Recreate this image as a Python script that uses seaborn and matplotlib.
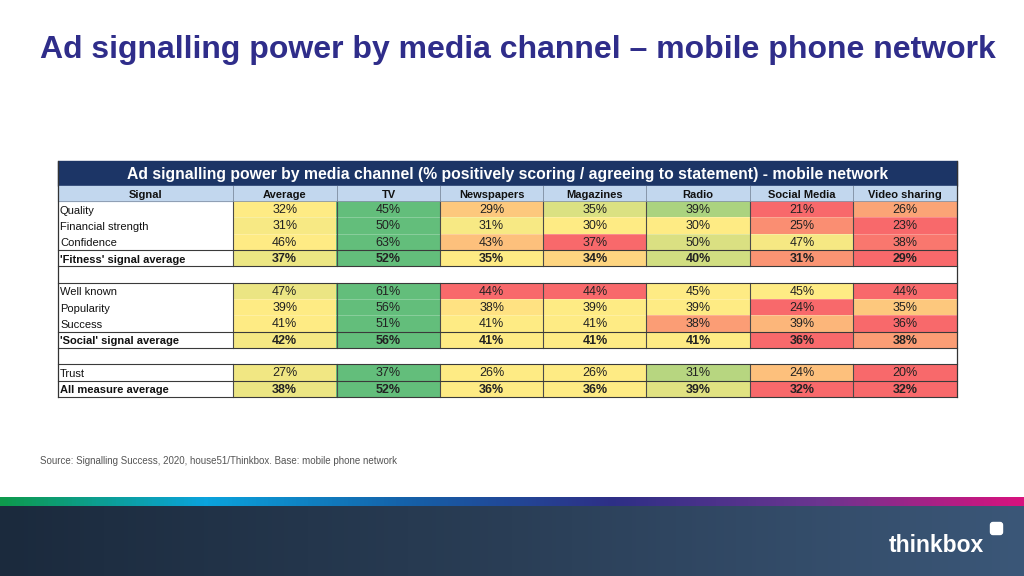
import numpy as np
import pandas as pd
import matplotlib
matplotlib.use("Agg")
import matplotlib.pyplot as plt
import seaborn as sns
from matplotlib.colors import LinearSegmentedColormap
from matplotlib.patches import Rectangle, FancyBboxPatch

# ---------------- data ----------------
signals = ["Quality", "Financial strength", "Confidence", "'Fitness' signal average", "",
           "Well known", "Popularity", "Success", "'Social' signal average", "",
           "Trust", "All measure average"]
bold_rows = [3, 8, 11]
channels = ["Average", "TV", "Newspapers", "Magazines", "Radio", "Social Media", "Video sharing"]

average     = [32, 31, 46, 37, None, 47, 39, 41, 42, None, 27, 38]
tv          = [45, 50, 63, 52, None, 61, 56, 51, 56, None, 37, 52]
newspapers  = [29, 31, 43, 35, None, 44, 38, 41, 41, None, 26, 36]
magazines   = [35, 30, 37, 34, None, 44, 39, 41, 41, None, 26, 36]
radio       = [39, 30, 50, 40, None, 45, 39, 38, 41, None, 31, 39]
social      = [21, 25, 47, 31, None, 45, 24, 39, 36, None, 24, 32]
video       = [26, 23, 38, 29, None, 44, 35, 36, 38, None, 20, 32]

slide_title = "Ad signalling power by media channel \u2013 mobile phone network"
table_title = "Ad signalling power by media channel (% positively scoring / agreeing to statement) - mobile network"
source_text = "Source: Signalling Success, 2020, house51/Thinkbox. Base: mobile phone network"

# ---------------- build frame ----------------
df = pd.DataFrame({c: pd.Series(v, dtype="float") for c, v in
                   zip(channels, [average, tv, newspapers, magazines, radio, social, video])})

# Excel-like 3-colour scale applied per row (min red, median yellow, max green)
def row_scale(row):
    vals = row.values.astype(float)
    if np.all(np.isnan(vals)):
        return pd.Series(vals, index=row.index)
    lo, mid, hi = np.nanmin(vals), np.nanmedian(vals), np.nanmax(vals)
    out = np.where(vals <= mid,
                   0.5 * (vals - lo) / max(mid - lo, 1e-9),
                   0.5 + 0.5 * (vals - mid) / max(hi - mid, 1e-9))
    return pd.Series(out, index=row.index)

scaled = df.apply(row_scale, axis=1)
annot = df.map(lambda v: "" if np.isnan(v) else f"{int(v)}%")
cmap = LinearSegmentedColormap.from_list("ryg", ["#F8696B", "#FFEB84", "#63BE7B"])

# ---------------- figure ----------------
W, H = 1024, 576
fig = plt.figure(figsize=(W / 100, H / 100), dpi=100)
fig.patch.set_facecolor("white")

bg = fig.add_axes([0, 0, 1, 1], zorder=0)
bg.set_xlim(0, W); bg.set_ylim(H, 0); bg.axis("off")

# bottom coloured strip and footer
stops = ["#0E9A4C", "#0AA3DD", "#1560A8", "#2E2F86", "#6B3590", "#D8127E"]
strip_cmap = LinearSegmentedColormap.from_list("strip", stops)
grad = np.linspace(0, 1, 512)[None, :]
bg.imshow(grad, cmap=strip_cmap, extent=[0, W, 506, 497], aspect="auto", zorder=1)
foot_cmap = LinearSegmentedColormap.from_list("foot", ["#1B2A3D", "#2A3E56", "#3B5778"])
bg.imshow(grad, cmap=foot_cmap, extent=[0, W, H, 506], aspect="auto", zorder=1)

# slide title
bg.text(40, 50, slide_title, fontsize=23, fontweight="bold", color="#2F2D8A",
        family="Liberation Sans", va="center", ha="left")

# table geometry
tx0, tx1 = 58, 957
title_top, head_top, body_top, body_bot = 161, 186, 201, 397
col_x = [233, 337, 440, 543, 646, 750, 853, 957]

bg.add_patch(Rectangle((tx0, title_top), tx1 - tx0, head_top - title_top, color="#1C3566", zorder=2))
bg.add_patch(Rectangle((tx0, head_top), tx1 - tx0, body_top - head_top, color="#C2D7EE", zorder=2))
bg.text((tx0 + tx1) / 2, (title_top + head_top) / 2 + 0.5, table_title, color="white",
        fontsize=11.3, fontweight="bold", family="Liberation Sans", ha="center", va="center", zorder=3)

headers = ["Signal"] + channels
hx = [(tx0 + col_x[0]) / 2] + [(col_x[i] + col_x[i + 1]) / 2 for i in range(7)]
for lab, x in zip(headers, hx):
    bg.text(x, (head_top + body_top) / 2 + 1, lab, fontsize=8, fontweight="bold",
            family="Liberation Sans", ha="center", va="center", color="#111", zorder=3)

nrows = len(signals)
rh = (body_bot - body_top) / nrows
for i, s in enumerate(signals):
    if s:
        bg.text(tx0 + 2, body_top + (i + 0.5) * rh + 1.5, s, fontsize=8,
                fontweight="bold" if i in bold_rows else "normal",
                family="Liberation Sans", ha="left", va="center", color="#111", zorder=3)

bg.text(40, 461, source_text, fontsize=7, color="#555", family="Liberation Sans",
        ha="left", va="center")

# thinkbox logo
bg.text(936, 546, "thinkbox", fontsize=16.5, color="white", fontweight="bold",
        family="Liberation Sans", ha="center", va="center", zorder=3)
bg.add_patch(FancyBboxPatch((990.5, 522.5), 12, 12, boxstyle="round,pad=0,rounding_size=2.5",
                            color="white", zorder=3))

# heatmap axes
hm = fig.add_axes([col_x[0] / W, 1 - body_bot / H, (col_x[-1] - col_x[0]) / W,
                   (body_bot - body_top) / H], zorder=1)
sns.heatmap(scaled, ax=hm, cmap=cmap, vmin=0, vmax=1, cbar=False,
            annot=annot.values, fmt="", annot_kws={"fontsize": 9, "color": "#222",
                                                   "family": "Liberation Sans"},
            xticklabels=False, yticklabels=False, linewidths=0)
hm.set_xlabel(""); hm.set_ylabel("")
for t in hm.texts:
    x, y = t.get_position()
    t.set_position((x, y + 0.06))
    if int(y) in bold_rows:
        t.set_fontweight("bold")

# overlay for lines
ov = fig.add_axes([0, 0, 1, 1], zorder=2)
ov.set_xlim(0, W); ov.set_ylim(H, 0); ov.axis("off"); ov.patch.set_alpha(0)

rb = [body_top + k * rh for k in range(nrows + 1)]
for k in range(1, nrows):
    ov.plot([col_x[0], tx1], [rb[k], rb[k]], color="white", lw=0.5, alpha=0.35)
segments = [(rb[0], rb[4]), (rb[5], rb[9]), (rb[10], rb[12])]
for x in col_x[:-1]:
    ov.plot([x, x], [head_top, body_top], color="#8796AA", lw=0.7)
    for a, b in segments:
        ov.plot([x, x], [a, b], color="#4a4a4a", lw=0.8)
for k in [3, 4, 5, 8, 9, 10, 11, 12]:
    ov.plot([tx0, tx1], [rb[k], rb[k]], color="#3a3a3a", lw=0.8)
ov.plot([tx0, tx1], [body_top, body_top], color="#8796AA", lw=0.6)
for x in (tx0, tx1):
    ov.plot([x, x], [title_top, body_bot], color="#333", lw=0.9)

fig.savefig("out.png", dpi=100)
